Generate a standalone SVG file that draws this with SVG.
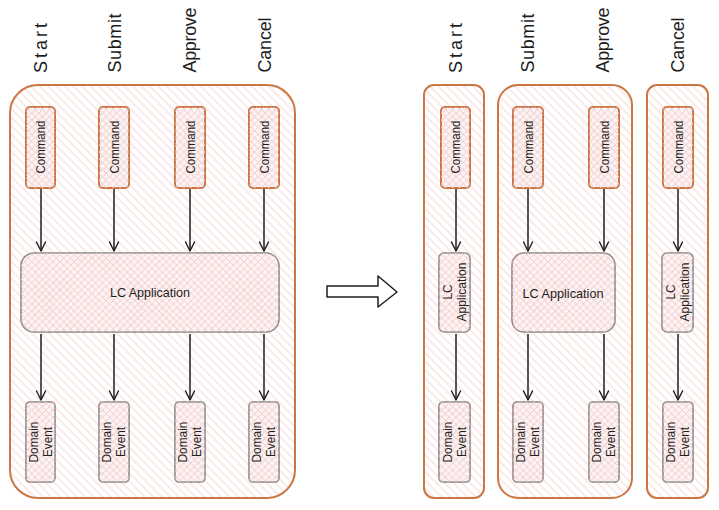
<svg xmlns="http://www.w3.org/2000/svg" width="719" height="510" viewBox="0 0 719 510">
<defs>
<pattern id="hatch" width="6" height="6" patternUnits="userSpaceOnUse" patternTransform="rotate(-45)">
<line x1="3" y1="0" x2="3" y2="6" stroke="#f5cfcf" stroke-width="0.9"/>
</pattern>
<pattern id="cross" width="5" height="5" patternUnits="userSpaceOnUse" patternTransform="rotate(-45)">
<line x1="2.5" y1="0" x2="2.5" y2="5" stroke="#f2c8c8" stroke-width="0.7"/>
<line x1="0" y1="2.5" x2="5" y2="2.5" stroke="#f2c8c8" stroke-width="0.7"/>
</pattern>
<marker id="ah" markerWidth="12" markerHeight="12" refX="10" refY="6" orient="auto" markerUnits="userSpaceOnUse">
<path d="M1,1.5 L10,6 L1,10.5" fill="none" stroke="#1e1e1e" stroke-width="1.4" stroke-linecap="round" stroke-linejoin="round"/>
</marker>
</defs>
<style>
.cont{fill:url(#hatch);stroke:#cc7645;stroke-width:2}
.cmd{fill:#fcf3f3;stroke:#cc7645;stroke-width:2}
.cmdh{fill:url(#cross);stroke:none}
.gray{fill:#fcf3f3;stroke:#8a8a8a;stroke-width:1.6}
.lbl{font-family:"Liberation Sans",Arial,sans-serif;font-size:18px;fill:#1e1e1e;text-anchor:middle;dominant-baseline:central}
.t{font-family:"Liberation Sans",Arial,sans-serif;font-size:12px;fill:#1e1e1e;text-anchor:middle;dominant-baseline:central}
.app{font-family:"Liberation Sans",Arial,sans-serif;font-size:13px;fill:#1e1e1e;text-anchor:middle;dominant-baseline:central}
.arr{stroke:#1e1e1e;stroke-width:1.5;fill:none;marker-end:url(#ah)}
</style>

<g id="labels">
<text class="lbl" transform="translate(41,48) rotate(-90)" textLength="50" lengthAdjust="spacing">Start</text>
<text class="lbl" transform="translate(115,43) rotate(-90)" textLength="59" lengthAdjust="spacing">Submit</text>
<text class="lbl" transform="translate(190,40) rotate(-90)" textLength="65" lengthAdjust="spacing">Approve</text>
<text class="lbl" transform="translate(265,45) rotate(-90)" textLength="55" lengthAdjust="spacing">Cancel</text>
<text class="lbl" transform="translate(456,48) rotate(-90)" textLength="50" lengthAdjust="spacing">Start</text>
<text class="lbl" transform="translate(528,43) rotate(-90)" textLength="59" lengthAdjust="spacing">Submit</text>
<text class="lbl" transform="translate(603,40) rotate(-90)" textLength="65" lengthAdjust="spacing">Approve</text>
<text class="lbl" transform="translate(678,45) rotate(-90)" textLength="55" lengthAdjust="spacing">Cancel</text>
</g>

<g id="containers">
<rect id="left-container" class="cont" x="10" y="85" width="285" height="413" rx="28"/>
<rect id="right-container-1" class="cont" x="424" y="85" width="60" height="413" rx="10"/>
<rect id="right-container-2" class="cont" x="498" y="85" width="134" height="413" rx="20"/>
<rect id="right-container-3" class="cont" x="647" y="85" width="61" height="413" rx="10"/>
</g>

<g id="commands">
<g id="cmd-l1"><rect class="cmd" x="26" y="107" width="29" height="81" rx="4"/><rect class="cmdh" x="26" y="107" width="29" height="81" rx="4"/><text class="t" transform="translate(41,147) rotate(-90)" textLength="53" lengthAdjust="spacingAndGlyphs">Command</text></g>
<g id="cmd-l2"><rect class="cmd" x="99" y="107" width="30" height="81" rx="4"/><rect class="cmdh" x="99" y="107" width="30" height="81" rx="4"/><text class="t" transform="translate(115,147) rotate(-90)" textLength="53" lengthAdjust="spacingAndGlyphs">Command</text></g>
<g id="cmd-l3"><rect class="cmd" x="175" y="107" width="30" height="81" rx="4"/><rect class="cmdh" x="175" y="107" width="30" height="81" rx="4"/><text class="t" transform="translate(191,147) rotate(-90)" textLength="53" lengthAdjust="spacingAndGlyphs">Command</text></g>
<g id="cmd-l4"><rect class="cmd" x="249" y="107" width="30" height="81" rx="4"/><rect class="cmdh" x="249" y="107" width="30" height="81" rx="4"/><text class="t" transform="translate(265,147) rotate(-90)" textLength="53" lengthAdjust="spacingAndGlyphs">Command</text></g>
<g id="cmd-r1"><rect class="cmd" x="441" y="107" width="29" height="81" rx="4"/><rect class="cmdh" x="441" y="107" width="29" height="81" rx="4"/><text class="t" transform="translate(456,147) rotate(-90)" textLength="53" lengthAdjust="spacingAndGlyphs">Command</text></g>
<g id="cmd-r2"><rect class="cmd" x="513" y="107" width="30" height="81" rx="4"/><rect class="cmdh" x="513" y="107" width="30" height="81" rx="4"/><text class="t" transform="translate(529,147) rotate(-90)" textLength="53" lengthAdjust="spacingAndGlyphs">Command</text></g>
<g id="cmd-r3"><rect class="cmd" x="589" y="107" width="30" height="81" rx="4"/><rect class="cmdh" x="589" y="107" width="30" height="81" rx="4"/><text class="t" transform="translate(605,147) rotate(-90)" textLength="53" lengthAdjust="spacingAndGlyphs">Command</text></g>
<g id="cmd-r4"><rect class="cmd" x="663" y="107" width="30" height="81" rx="4"/><rect class="cmdh" x="663" y="107" width="30" height="81" rx="4"/><text class="t" transform="translate(679,147) rotate(-90)" textLength="53" lengthAdjust="spacingAndGlyphs">Command</text></g>
</g>

<g id="applications">
<g id="app-l"><rect class="gray" x="21" y="253" width="258" height="79" rx="13"/><rect class="cmdh" x="21" y="253" width="258" height="79" rx="13"/><text class="app" x="150" y="292" textLength="80" lengthAdjust="spacingAndGlyphs">LC Application</text></g>
<g id="app-r1"><rect class="gray" x="439" y="253" width="31" height="79" rx="5"/><rect class="cmdh" x="439" y="253" width="31" height="79" rx="5"/><text class="t" transform="translate(448,292) rotate(-90)" textLength="15" lengthAdjust="spacingAndGlyphs">LC</text><text class="t" transform="translate(462,292) rotate(-90)" textLength="59" lengthAdjust="spacingAndGlyphs">Application</text></g>
<g id="app-r2"><rect class="gray" x="512" y="253" width="103" height="79" rx="12"/><rect class="cmdh" x="512" y="253" width="103" height="79" rx="12"/><text class="app" x="563" y="293" textLength="81" lengthAdjust="spacingAndGlyphs">LC Application</text></g>
<g id="app-r3"><rect class="gray" x="662" y="253" width="31" height="79" rx="5"/><rect class="cmdh" x="662" y="253" width="31" height="79" rx="5"/><text class="t" transform="translate(671,292) rotate(-90)" textLength="15" lengthAdjust="spacingAndGlyphs">LC</text><text class="t" transform="translate(685,292) rotate(-90)" textLength="59" lengthAdjust="spacingAndGlyphs">Application</text></g>
</g>

<g id="events">
<g id="ev-l1"><rect class="gray" x="26" y="402" width="29" height="80" rx="4"/><rect class="cmdh" x="26" y="402" width="29" height="80" rx="4"/><text class="t" transform="translate(34,442) rotate(-90)" textLength="41" lengthAdjust="spacingAndGlyphs">Domain</text><text class="t" transform="translate(48,442) rotate(-90)" textLength="30" lengthAdjust="spacingAndGlyphs">Event</text></g>
<g id="ev-l2"><rect class="gray" x="99" y="402" width="30" height="80" rx="4"/><rect class="cmdh" x="99" y="402" width="30" height="80" rx="4"/><text class="t" transform="translate(107,442) rotate(-90)" textLength="41" lengthAdjust="spacingAndGlyphs">Domain</text><text class="t" transform="translate(121,442) rotate(-90)" textLength="30" lengthAdjust="spacingAndGlyphs">Event</text></g>
<g id="ev-l3"><rect class="gray" x="175" y="402" width="30" height="80" rx="4"/><rect class="cmdh" x="175" y="402" width="30" height="80" rx="4"/><text class="t" transform="translate(183,442) rotate(-90)" textLength="41" lengthAdjust="spacingAndGlyphs">Domain</text><text class="t" transform="translate(197,442) rotate(-90)" textLength="30" lengthAdjust="spacingAndGlyphs">Event</text></g>
<g id="ev-l4"><rect class="gray" x="249" y="402" width="30" height="80" rx="4"/><rect class="cmdh" x="249" y="402" width="30" height="80" rx="4"/><text class="t" transform="translate(257,442) rotate(-90)" textLength="41" lengthAdjust="spacingAndGlyphs">Domain</text><text class="t" transform="translate(271,442) rotate(-90)" textLength="30" lengthAdjust="spacingAndGlyphs">Event</text></g>
<g id="ev-r1"><rect class="gray" x="439" y="402" width="31" height="80" rx="4"/><rect class="cmdh" x="439" y="402" width="31" height="80" rx="4"/><text class="t" transform="translate(448,442) rotate(-90)" textLength="41" lengthAdjust="spacingAndGlyphs">Domain</text><text class="t" transform="translate(462,442) rotate(-90)" textLength="30" lengthAdjust="spacingAndGlyphs">Event</text></g>
<g id="ev-r2"><rect class="gray" x="513" y="402" width="30" height="80" rx="4"/><rect class="cmdh" x="513" y="402" width="30" height="80" rx="4"/><text class="t" transform="translate(521,442) rotate(-90)" textLength="41" lengthAdjust="spacingAndGlyphs">Domain</text><text class="t" transform="translate(535,442) rotate(-90)" textLength="30" lengthAdjust="spacingAndGlyphs">Event</text></g>
<g id="ev-r3"><rect class="gray" x="589" y="402" width="30" height="80" rx="4"/><rect class="cmdh" x="589" y="402" width="30" height="80" rx="4"/><text class="t" transform="translate(597,442) rotate(-90)" textLength="41" lengthAdjust="spacingAndGlyphs">Domain</text><text class="t" transform="translate(611,442) rotate(-90)" textLength="30" lengthAdjust="spacingAndGlyphs">Event</text></g>
<g id="ev-r4"><rect class="gray" x="663" y="402" width="30" height="80" rx="4"/><rect class="cmdh" x="663" y="402" width="30" height="80" rx="4"/><text class="t" transform="translate(671,442) rotate(-90)" textLength="41" lengthAdjust="spacingAndGlyphs">Domain</text><text class="t" transform="translate(685,442) rotate(-90)" textLength="30" lengthAdjust="spacingAndGlyphs">Event</text></g>
</g>

<g id="connectors">
<line class="arr" x1="41" y1="189" x2="41" y2="251"/>
<line class="arr" x1="114" y1="189" x2="114" y2="251"/>
<line class="arr" x1="190" y1="189" x2="190" y2="251"/>
<line class="arr" x1="264" y1="189" x2="264" y2="251"/>
<line class="arr" x1="41" y1="334" x2="41" y2="400"/>
<line class="arr" x1="114" y1="334" x2="114" y2="400"/>
<line class="arr" x1="190" y1="334" x2="190" y2="400"/>
<line class="arr" x1="264" y1="334" x2="264" y2="400"/>
<line class="arr" x1="456" y1="189" x2="456" y2="251"/>
<line class="arr" x1="528" y1="189" x2="528" y2="251"/>
<line class="arr" x1="604" y1="189" x2="604" y2="251"/>
<line class="arr" x1="678" y1="189" x2="678" y2="251"/>
<line class="arr" x1="456" y1="334" x2="456" y2="400"/>
<line class="arr" x1="528" y1="334" x2="528" y2="400"/>
<line class="arr" x1="604" y1="334" x2="604" y2="400"/>
<line class="arr" x1="678" y1="334" x2="678" y2="400"/>
</g>

<g id="transform-arrow">
<path d="M327,286 L378,286 L378,276 L397,292 L378,307 L378,297 L327,297 Z" fill="#ffffff" stroke="#1e1e1e" stroke-width="1.5" stroke-linejoin="round"/>
</g>
</svg>
